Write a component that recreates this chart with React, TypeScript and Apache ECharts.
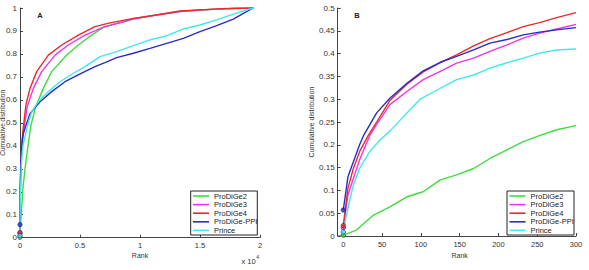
import React, { useEffect, useRef } from "react";
import * as echarts from "echarts";

// Series names and colours
const seriesNames = ["ProDiGe2", "ProDiGe3", "ProDiGe4", "ProDiGe-PPI", "Prince"];
const seriesColors = ["#3fdc3f", "#e936e9", "#ea2a2a", "#2b2bc6", "#3ee9ee"];

// Cumulative distribution vs. rank, one [rank, fraction] list per method
const prodige2: number[][] = [
  [0, 0.002], [17, 0.013], [39, 0.046], [60, 0.064], [82, 0.086], [103, 0.097],
  [125, 0.123], [146, 0.134], [168, 0.148], [189, 0.17], [211, 0.189], [232, 0.207],
  [253, 0.22], [275, 0.233], [300, 0.242], [417, 0.3], [694, 0.41], [917, 0.49],
  [1300, 0.57], [1944, 0.65], [2639, 0.723], [3889, 0.795], [4861, 0.839],
  [5972, 0.882], [6944, 0.915], [8000, 0.932], [9444, 0.952], [11000, 0.966],
  [12222, 0.976], [13333, 0.985], [15000, 0.991], [16500, 0.995], [17778, 0.998],
  [19444, 1.0],
];
const prodige3: number[][] = [
  [0, 0.018], [6, 0.09], [13, 0.126], [21, 0.167], [34, 0.22], [43, 0.245],
  [60, 0.288], [82, 0.317], [103, 0.343], [125, 0.361], [146, 0.379], [168, 0.39],
  [189, 0.405], [211, 0.419], [232, 0.434], [253, 0.445], [275, 0.454], [300, 0.464],
  [600, 0.57], [1111, 0.65], [1806, 0.723], [2917, 0.795], [4028, 0.839],
  [5417, 0.882], [7000, 0.918], [8500, 0.938], [9444, 0.953], [11000, 0.966],
  [12222, 0.976], [13333, 0.985], [15000, 0.991], [16500, 0.995], [17778, 0.998],
  [19444, 1.0],
];
const prodige4: number[][] = [
  [0, 0.023], [6, 0.105], [13, 0.148], [21, 0.185], [32, 0.22], [43, 0.25],
  [60, 0.297], [82, 0.333], [103, 0.36], [125, 0.38], [146, 0.397], [168, 0.417],
  [189, 0.433], [211, 0.446], [232, 0.459], [253, 0.468], [275, 0.479], [300, 0.49],
  [500, 0.58], [833, 0.65], [1389, 0.723], [2361, 0.795], [3472, 0.839],
  [4861, 0.882], [6250, 0.919], [7500, 0.935], [9444, 0.955], [11000, 0.967],
  [12222, 0.977], [13333, 0.987], [15000, 0.992], [16500, 0.996], [17778, 0.999],
  [19444, 1.0],
];
const prodigePPI: number[][] = [
  [0, 0.057], [6, 0.13], [13, 0.163], [21, 0.2], [26, 0.22], [43, 0.27],
  [60, 0.302], [82, 0.335], [103, 0.362], [125, 0.381], [146, 0.394], [168, 0.408],
  [189, 0.423], [211, 0.431], [232, 0.441], [253, 0.447], [275, 0.452], [300, 0.457],
  [500, 0.49], [833, 0.54], [1667, 0.592], [2639, 0.636], [3750, 0.679],
  [5139, 0.716], [6250, 0.745], [7083, 0.762], [8056, 0.784], [9444, 0.803],
  [10833, 0.824], [12222, 0.846], [13611, 0.868], [15000, 0.897], [16389, 0.923],
  [17778, 0.952], [18611, 0.977], [19444, 1.0],
];
const prince: number[][] = [
  [0, 0.009], [4, 0.046], [9, 0.083], [13, 0.112], [21, 0.148], [34, 0.185],
  [47, 0.21], [60, 0.23], [82, 0.27], [99, 0.3], [125, 0.324], [146, 0.343],
  [168, 0.353], [189, 0.368], [211, 0.38], [232, 0.39], [253, 0.401], [275, 0.408],
  [300, 0.41], [500, 0.46], [800, 0.52], [1000, 0.55], [1528, 0.592], [2361, 0.636],
  [3333, 0.679], [4444, 0.716], [5417, 0.745], [6667, 0.788], [8056, 0.81],
  [9444, 0.836], [10833, 0.861], [12222, 0.879], [13611, 0.909], [15000, 0.926],
  [16389, 0.948], [17778, 0.973], [19444, 1.0],
];
const allSeries = [prodige2, prodige3, prodige4, prodigePPI, prince];

// Axis ranges
const rankMaxA = 20000;
const rankMaxB = 300;

const FONT = "'Liberation Sans', Arial, Helvetica, sans-serif";
const AXIS_COLOR = "#444";
const LABEL_COLOR = "#333";

const fmt = (v: number) => String(+v.toFixed(3));

function makeXAxis(
  gridIndex: number,
  max: number,
  interval: number,
  nameGap: number,
  formatter: (v: number) => string
) {
  return {
    type: "value",
    gridIndex,
    min: 0,
    max,
    interval,
    name: "Rank",
    nameLocation: "middle",
    nameGap,
    nameMoveOverlap: false,
    nameTextStyle: { fontSize: 7, color: LABEL_COLOR, fontFamily: FONT },
    axisLine: { show: true, onZero: false, lineStyle: { color: AXIS_COLOR, width: 1 } },
    axisTick: { show: true, inside: true, length: 3, lineStyle: { color: AXIS_COLOR } },
    axisLabel: { fontSize: 7.5, color: LABEL_COLOR, margin: 4, fontFamily: FONT, formatter },
    splitLine: { show: false },
  };
}

function makeYAxis(
  gridIndex: number,
  max: number,
  interval: number,
  nameGap: number,
  offset: number,
  nameSize: number
) {
  return {
    type: "value",
    gridIndex,
    min: 0,
    max,
    interval,
    offset,
    name: "Cumulative distribution",
    nameLocation: "middle",
    nameGap,
    nameMoveOverlap: false,
    nameTextStyle: { fontSize: nameSize, color: LABEL_COLOR, fontFamily: FONT },
    axisLine: { show: true, onZero: false, lineStyle: { color: AXIS_COLOR, width: 1 } },
    axisTick: { show: true, inside: true, length: 3, lineStyle: { color: AXIS_COLOR } },
    axisLabel: { fontSize: 8, color: LABEL_COLOR, margin: 3, fontFamily: FONT, formatter: fmt },
    splitLine: { show: false },
  };
}

function makeLegend(left: number) {
  return {
    left,
    top: 191.7,
    orient: "vertical",
    icon: "rect",
    itemWidth: 16,
    itemHeight: 1.6,
    itemGap: 0,
    padding: 0,
    selectedMode: false,
    data: seriesNames,
    textStyle: { fontSize: 7.5, lineHeight: 8.6, color: "#222", fontFamily: FONT },
    z: 10,
  };
}

export default function App() {
  const ref = useRef<HTMLDivElement>(null);

  useEffect(() => {
    if (!ref.current) return;
    const chart = echarts.init(ref.current, null, { renderer: "svg" });

    const series: any[] = [];
    [0, 1].forEach((g) => {
      const limit = g === 0 ? rankMaxA : rankMaxB;
      allSeries.forEach((data, i) => {
        series.push({
          type: "line",
          name: seriesNames[i],
          xAxisIndex: g,
          yAxisIndex: g,
          data: data.filter((p) => p[0] <= limit),
          symbol: "none",
          color: seriesColors[i],
          lineStyle: { width: 1.4, color: seriesColors[i] },
          z: 2 + i,
        });
      });
      // starting-point markers at rank 0
      allSeries.forEach((data, i) => {
        series.push({
          type: "scatter",
          xAxisIndex: g,
          yAxisIndex: g,
          data: [data[0]],
          symbol: "circle",
          symbolSize: 4.5,
          itemStyle: {
            color: seriesColors[i],
            borderColor: "rgba(20,20,60,0.8)",
            borderWidth: 0.8,
          },
          z: 8,
          silent: true,
        });
      });
    });

    chart.setOption({
      animation: false,
      backgroundColor: "#fff",
      textStyle: { fontFamily: FONT },
      grid: [
        { left: 20, right: 329, top: 8, bottom: 32.3, containLabel: false, outerBoundsMode: "none" },
        { left: 343.3, right: 13, top: 8, bottom: 34, containLabel: false, outerBoundsMode: "none" },
      ],
      xAxis: [
        makeXAxis(0, rankMaxA, 5000, 14.5, (v: number) => String(v / 10000)),
        makeXAxis(1, rankMaxB, 50, 15.5, (v: number) => String(v)),
      ],
      yAxis: [makeYAxis(0, 1, 0.1, 14, 0, 6.5), makeYAxis(1, 0.5, 0.05, 23, 5.6, 7)],
      legend: [makeLegend(193), makeLegend(509.5)],
      series,
      graphic: [
        // legend frames
        {
          type: "rect",
          shape: { x: 190.7, y: 191, width: 66.6, height: 44 },
          style: { fill: "#fff", stroke: "#222", lineWidth: 1 },
          z: 5,
          silent: true,
        },
        {
          type: "rect",
          shape: { x: 507, y: 191, width: 67, height: 44 },
          style: { fill: "#fff", stroke: "#222", lineWidth: 1 },
          z: 5,
          silent: true,
        },
        // x-axis line continues to the shifted y axis of panel B
        {
          type: "line",
          shape: { x1: 337.7, y1: 236, x2: 343.3, y2: 236 },
          style: { stroke: AXIS_COLOR, lineWidth: 1 },
          z: 5,
          silent: true,
        },
        // panel letters
        {
          type: "text",
          x: 40,
          y: 15,
          style: {
            text: "A",
            fontSize: 7.5,
            fontWeight: "bold",
            fill: "#222",
            fontFamily: FONT,
            align: "center",
            verticalAlign: "middle",
          },
        },
        {
          type: "text",
          x: 357,
          y: 15,
          style: {
            text: "B",
            fontSize: 7.5,
            fontWeight: "bold",
            fill: "#222",
            fontFamily: FONT,
            align: "center",
            verticalAlign: "middle",
          },
        },
        // exponent of the rank axis in panel A
        {
          type: "text",
          x: 241.5,
          y: 253,
          style: {
            text: "{b|x 10}{s|4}",
            fontFamily: FONT,
            fill: LABEL_COLOR,
            rich: {
              b: { fontSize: 7.5, fill: LABEL_COLOR, padding: [4, 0, 0, 0] },
              s: { fontSize: 5, fill: LABEL_COLOR, padding: [0, 0, 4, 0.5] },
            },
          },
        },
      ],
    });

    return () => chart.dispose();
  }, []);

  return (
    <div
      ref={ref}
      style={{ position: "fixed", left: 0, top: 0, width: 589, height: 270, background: "#fff" }}
    />
  );
}
